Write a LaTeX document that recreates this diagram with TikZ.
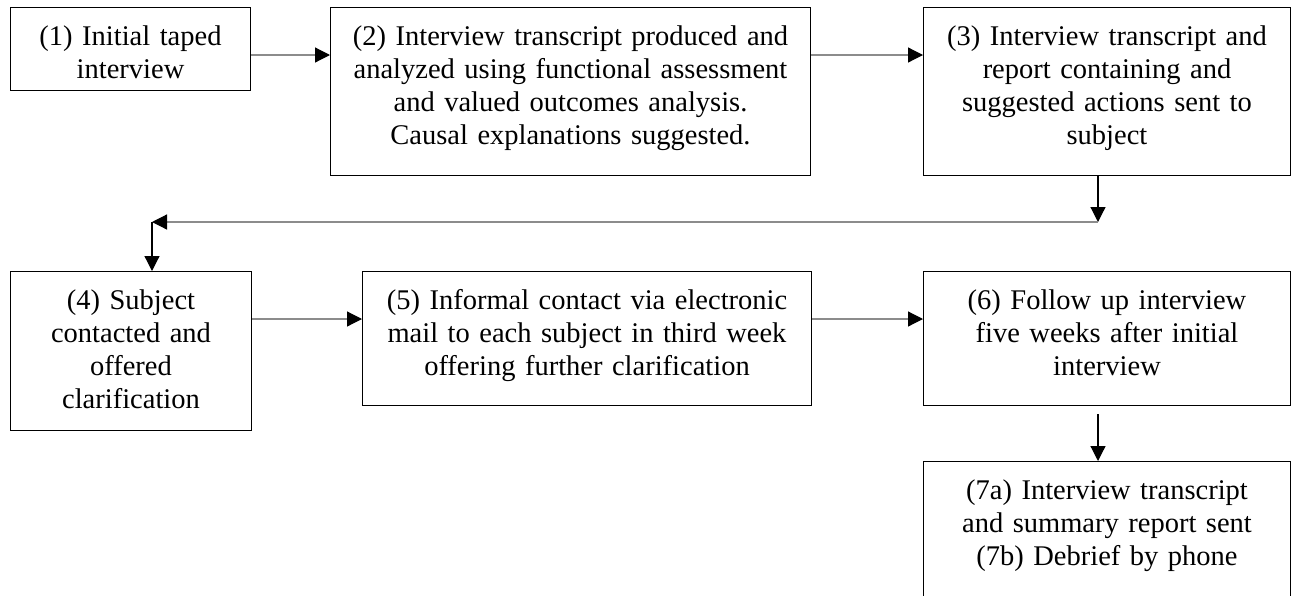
\documentclass[tikz,border=0pt]{standalone}
\usepackage{fontspec}
\setmainfont{Liberation Serif}
\usetikzlibrary{arrows.meta}

\tikzset{
	stage/.style={draw=black, line width=1pt, anchor=north west, align=center,
		inner xsep=2pt, inner ysep=18pt, text height=20pt,
		font=\fontsize{28.5}{33}\selectfont},
	conn/.style={draw=black!45, line width=1.2pt, -{Triangle[length=15pt,width=15pt,color=black]}},
	vconn/.style={draw=black, line width=1.2pt, -{Triangle[length=15pt,width=15pt]}}
}

\begin{document}
\begin{tikzpicture}[x=1pt,y=-1pt]
	\useasboundingbox (0,0) rectangle (1291,595);
	% first row
	\node[stage, text width=236pt, text depth=27pt] (b1) at (10,7)
		{(1) Initial taped\\interview};
	\node[stage, text width=476pt, text depth=112pt] (b2) at (330,7)
		{(2) Interview transcript produced and\\analyzed using functional assessment\\and valued outcomes analysis.\\Causal explanations suggested.};
	\node[stage, text width=363pt, text depth=112pt] (b3) at (923,7)
		{(3) Interview transcript and\\report containing and\\suggested actions sent to\\subject};
	% second row
	\node[stage, text width=237pt, text depth=103pt] (b4) at (10,271)
		{(4) Subject\\contacted and\\offered\\clarification};
	\node[stage, text width=445pt, text depth=78pt] (b5) at (362,271)
		{(5) Informal contact via electronic\\mail to each subject in third week\\offering further clarification};
	\node[stage, text width=363pt, text depth=78pt] (b6) at (923,271)
		{(6) Follow up interview\\five weeks after initial\\interview};
	% last box runs off the bottom
	\node[stage, text width=363pt, text depth=150pt] (b7) at (923,461)
		{(7a) Interview transcript\\and summary report sent\\(7b) Debrief by phone};
	% turning points
	\coordinate (row1) at (0,55);
	\coordinate (row2) at (0,319);
	\coordinate (turn) at (1098,222);
	\coordinate (corner) at (152,222);
	\draw[conn] (b1.east |- row1) -- (b2.west |- row1);
	\draw[conn] (b2.east |- row1) -- (b3.west |- row1);
	\draw[vconn] (turn |- b3.south) -- (turn);
	\draw[conn] (turn) -- (corner);
	\draw[vconn] (corner) -- (corner |- b4.north);
	\draw[conn] (b4.east |- row2) -- (b5.west |- row2);
	\draw[conn] (b5.east |- row2) -- (b6.west |- row2);
	\draw[vconn, shorten <=8pt] (turn |- b6.south) -- (turn |- b7.north);
\end{tikzpicture}
\end{document}
